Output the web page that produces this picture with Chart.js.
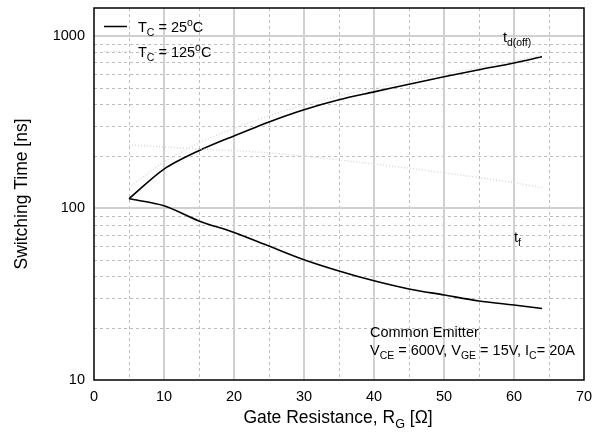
<!DOCTYPE html>
<html>
<head>
<meta charset="utf-8">
<script src="https://cdn.jsdelivr.net/npm/chart.js@4.4.1/dist/chart.umd.min.js"></script>
<style>
  html, body { margin: 0; padding: 0; background: #fff; }
  #wrap { width: 605px; height: 443px; }
</style>
</head>
<body>
<div id="wrap"><canvas id="chart"></canvas></div>
<script>
// gate resistance [ohm]
const gateRes = [5, 10, 15, 20, 25, 30, 35, 40, 45, 50, 55, 60, 64];
// switching times [ns]
const tdOff25 = [113, 168, 215, 262, 316, 372, 425, 472, 523, 578, 635, 695, 755];
const tf25 = [113, 103, 84, 72, 60, 50, 43, 37.7, 33.8, 31.2, 28.8, 27.3, 26];
const tdOff125 = [131, 185, 238, 290, 343, 397, 448, 496, 546, 600, 655, 713, 770];
const tf125 = [232, 226, 220, 215, 209, 200, 190, 180, 170, 160, 150, 140, 131];

const xTicks = [0, 10, 20, 30, 40, 50, 60, 70];
const yTicks = [10, 100, 1000];
const xMinor = [5, 15, 25, 35, 45, 55, 65];
const yMinor = [20, 30, 40, 50, 60, 70, 80, 90, 200, 300, 400, 500, 600, 700, 800, 900];

const FONT = "'Liberation Sans', Arial, sans-serif";

function pts(ys) {
  return gateRes.map((x, i) => ({ x: x, y: ys[i] }));
}

// draws text with _{sub} and ^{sup} parts
function drawRich(ctx, str, x, y, size, align) {
  const parts = [];
  const re = /([_^])\{([^}]*)\}/g;
  let last = 0, m;
  while ((m = re.exec(str)) !== null) {
    if (m.index > last) parts.push({ t: str.slice(last, m.index), s: size, dy: 0 });
    if (m[1] === '_') parts.push({ t: m[2], s: size * 0.72, dy: size * 0.3 });
    else parts.push({ t: m[2], s: size * 0.72, dy: -size * 0.42 });
    last = re.lastIndex;
  }
  if (last < str.length) parts.push({ t: str.slice(last), s: size, dy: 0 });
  let w = 0;
  parts.forEach(p => { ctx.font = p.s + 'px ' + FONT; p.w = ctx.measureText(p.t).width; w += p.w; });
  let cx = align === 'center' ? x - w / 2 : x;
  ctx.textAlign = 'left';
  ctx.textBaseline = 'alphabetic';
  parts.forEach(p => {
    ctx.font = p.s + 'px ' + FONT;
    ctx.fillText(p.t, cx, y + p.dy);
    cx += p.w;
  });
}

const gridPlugin = {
  id: 'gridLines',
  beforeDatasetsDraw(chart) {
    const { ctx, chartArea: a, scales: { x, y } } = chart;
    ctx.save();
    // minor dashed
    ctx.strokeStyle = '#bdbdbd';
    ctx.lineWidth = 1;
    ctx.setLineDash([3, 3]);
    xMinor.forEach(v => {
      const px = Math.round(x.getPixelForValue(v)) + 0.5;
      ctx.beginPath(); ctx.moveTo(px, a.top); ctx.lineTo(px, a.bottom); ctx.stroke();
    });
    yMinor.forEach(v => {
      const py = Math.round(y.getPixelForValue(v)) + 0.5;
      ctx.beginPath(); ctx.moveTo(a.left, py); ctx.lineTo(a.right, py); ctx.stroke();
    });
    // major solid
    ctx.setLineDash([]);
    ctx.strokeStyle = '#d0d0d0';
    ctx.lineWidth = 2;
    xTicks.slice(1, -1).forEach(v => {
      const px = Math.round(x.getPixelForValue(v));
      ctx.beginPath(); ctx.moveTo(px, a.top); ctx.lineTo(px, a.bottom); ctx.stroke();
    });
    yTicks.slice(1).forEach(v => {
      const py = Math.round(y.getPixelForValue(v));
      ctx.beginPath(); ctx.moveTo(a.left, py); ctx.lineTo(a.right, py); ctx.stroke();
    });
    ctx.restore();
  },
  afterDraw(chart) {
    const { ctx, chartArea: a } = chart;
    ctx.save();
    // frame
    ctx.strokeStyle = '#000';
    ctx.lineWidth = 1.5;
    ctx.strokeRect(a.left, a.top, a.right - a.left, a.bottom - a.top);

    ctx.fillStyle = '#000';
    // legend
    ctx.beginPath(); ctx.moveTo(104, 26.5); ctx.lineTo(127, 26.5); ctx.stroke();
    ctx.strokeStyle = '#d6d6d6';
    ctx.setLineDash([1, 2]);
    ctx.beginPath(); ctx.moveTo(104, 51.5); ctx.lineTo(127, 51.5); ctx.stroke();
    ctx.setLineDash([]);
    drawRich(ctx, 'T_{C} = 25^{o}C', 138, 32, 14.5, 'left');
    drawRich(ctx, 'T_{C} = 125^{o}C', 138, 57, 14.5, 'left');

    // curve labels
    drawRich(ctx, 't_{d(off)}', 503, 42, 14.5, 'left');
    drawRich(ctx, 't_{f}', 514, 242, 14.5, 'left');

    // test conditions
    drawRich(ctx, 'Common Emitter', 370, 337, 14.5, 'left');
    drawRich(ctx, 'V_{CE} = 600V, V_{GE} = 15V, I_{C}= 20A', 370, 355, 14.5, 'left');

    // x axis title
    drawRich(ctx, 'Gate Resistance, R_{G} [Ω]', 338, 423, 17.5, 'center');
    ctx.restore();
  }
};

const ctx = document.getElementById('chart').getContext('2d');
const chart = new Chart(ctx, {
  type: 'line',
  data: {
    datasets: [
      { data: pts(tdOff125), borderColor: '#d8d8d8', borderWidth: 1.5, borderDash: [1, 2] },
      { data: pts(tf125), borderColor: '#d8d8d8', borderWidth: 1.5, borderDash: [1, 2] },
      { data: pts(tdOff25), borderColor: '#000', borderWidth: 1.6 },
      { data: pts(tf25), borderColor: '#000', borderWidth: 1.6 }
    ]
  },
  options: {
    responsive: true,
    maintainAspectRatio: false,
    animation: false,
    layout: { padding: { top: 8, right: 21, left: 0, bottom: 0 } },
    elements: {
      point: { radius: 0 },
      line: { tension: 0.3 }
    },
    plugins: {
      legend: { display: false },
      tooltip: { enabled: false }
    },
    scales: {
      x: {
        type: 'linear',
        min: 0,
        max: 70,
        afterFit: s => { s.height = 63; s.paddingLeft = 0; s.paddingRight = 0; },
        afterBuildTicks: s => { s.ticks = xTicks.map(v => ({ value: v })); },
        grid: { display: false, drawTicks: false },
        border: { display: false },
        ticks: { color: '#000', padding: 8, font: { family: FONT, size: 14.5 } }
      },
      y: {
        type: 'logarithmic',
        min: 10,
        max: 1450,
        afterFit: s => { s.width = 94; s.paddingTop = 0; s.paddingBottom = 0; },
        afterBuildTicks: s => { s.ticks = yTicks.map(v => ({ value: v })); },
        grid: { display: false, drawTicks: false },
        border: { display: false },
        ticks: {
          color: '#000',
          padding: 9,
          font: { family: FONT, size: 14.5 },
          callback: v => String(v)
        },
        title: {
          display: true,
          text: 'Switching Time [ns]',
          color: '#000',
          font: { family: FONT, size: 17.5 },
          padding: { top: 12, bottom: 0 }
        }
      }
    }
  },
  plugins: [gridPlugin]
});
</script>
</body>
</html>
